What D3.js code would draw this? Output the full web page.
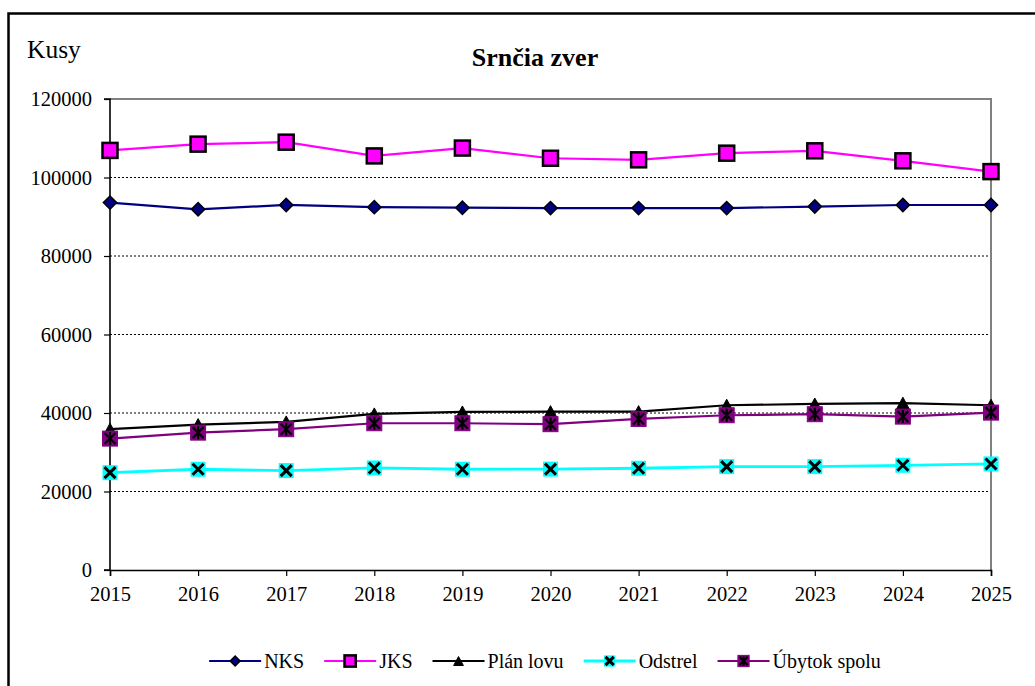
<!DOCTYPE html>
<html><head><meta charset="utf-8">
<script src="https://cdn.jsdelivr.net/npm/d3@7/dist/d3.min.js"></script>
<style>body{margin:0;background:#fff}svg{display:block}</style>
</head><body><svg id="c" width="1035" height="686"></svg>
<script>
const years = [2015,2016,2017,2018,2019,2020,2021,2022,2023,2024,2025];
const nks = [93600,91900,93000,92450,92300,92200,92200,92200,92600,93000,93000];
const jks = [106900,108500,109000,105500,107500,104900,104500,106200,106800,104250,101500];
const planLovu = [35870,37050,37730,39770,40270,40350,40350,41980,42300,42500,41980];
const odstrel = [24800,25670,25330,26000,25670,25700,25920,26340,26340,26680,27020];
const ubytok = [33480,35000,35870,37390,37390,37150,38490,39430,39690,39080,40100];
const yTicks = [0,20000,40000,60000,80000,100000,120000];
const seriesNames = ["NKS","JKS","Plán lovu","Odstrel","Úbytok spolu"];
const title = "Srnčia zver";
const yTitle = "Kusy";

const FF = '"Liberation Serif"';
const svg = d3.select("#c");
const L=110,R=991,T=99,B=570;
const x = d3.scalePoint().domain(years).range([L,R]);
const y = d3.scaleLinear().domain([0,120000]).range([B,T]);

// outer frame (left & top)
svg.append("path").attr("d",`M8.5,686 V13.5 H1035`).attr("fill","none").attr("stroke","#000").attr("stroke-width",2.5);

// gridlines
svg.append("g").selectAll("line").data(yTicks.filter(v=>v>0&&v<120000)).join("line")
  .attr("x1",L).attr("x2",R).attr("y1",d=>y(d)).attr("y2",d=>y(d))
  .attr("stroke","#000").attr("stroke-width",1).attr("stroke-dasharray","2,2");
// plot top/right border
svg.append("path").attr("d",`M${L},${T} H${R} V${B}`).attr("fill","none").attr("stroke","#808080").attr("stroke-width",2);

// axes
const yAxis = svg.append("g").attr("transform",`translate(${L},0)`)
  .call(d3.axisLeft(y).tickValues(yTicks).tickFormat(d3.format("d")).tickSize(6).tickPadding(12));
const xAxis = svg.append("g").attr("transform",`translate(0,${B})`)
  .call(d3.axisBottom(x).tickSize(6).tickPadding(8).tickFormat(d3.format("d")));
[yAxis,xAxis].forEach(a=>{
  a.attr("font-family",null);
  a.select(".domain").attr("stroke","#000").attr("stroke-width",1.6);
  a.selectAll(".tick line").attr("stroke","#000").attr("stroke-width",1.2);
  a.selectAll(".tick text").attr("fill","#000").style("font-family",FF).style("font-size","20.5px");
});
yAxis.select(".domain").attr("d",`M-6,${T}H0V${B}H-6`);
yAxis.selectAll(".tick text").attr("x",-18).attr("dy","0.33em");
xAxis.selectAll(".tick text").attr("y",31).attr("dy",0);

// titles
svg.append("text").attr("x",535).attr("y",66).attr("text-anchor","middle").style("font-family",FF).style("font-size","26px").attr("font-weight","bold").text(title);
svg.append("text").attr("x",27).attr("y",58).style("font-family",FF).style("font-size","25.5px").text(yTitle);

// marker drawers
function mDiamond(g,s){g.append("path").attr("d",d3.symbol(d3.symbolSquare,88*s*s)()).attr("transform","rotate(45)").attr("fill","#000080").attr("stroke","#000").attr("stroke-width",1.5);}
function mSquare(g,s){const h=7.5*s;g.append("rect").attr("x",-h).attr("y",-h).attr("width",2*h).attr("height",2*h).attr("fill","#ff00ff").attr("stroke","#000").attr("stroke-width",2.5);}
function mTri(g,s){const w=6.5*s,h=6*s;g.append("path").attr("d",`M0,${-h}L${w},${h}L${-w},${h}Z`).attr("fill","#000").attr("stroke","#000").attr("stroke-width",1);}
function mX(g,s){const h=7.5*s,k=5.5*s;g.append("rect").attr("x",-h).attr("y",-h).attr("width",2*h).attr("height",2*h).attr("fill","#00ffff");
  g.append("path").attr("d",`M${-k},${-k}L${k},${k}M${k},${-k}L${-k},${k}`).attr("stroke","#000").attr("stroke-width",3);}
function mStar(g,s){const h=7.5*s,k=5.5*s;g.append("rect").attr("x",-h).attr("y",-h).attr("width",2*h).attr("height",2*h).attr("fill","#800080").attr("stroke","#800080").attr("stroke-width",1);
  g.append("path").attr("d",`M${-k},${-k}L${k},${k}M${k},${-k}L${-k},${k}M0,${-h+1}L0,${h-1}`).attr("stroke","#000").attr("stroke-width",2.2);}

const series = [
  {name:seriesNames[0],vals:nks,color:"#000080",w:2.2,m:mDiamond},
  {name:seriesNames[1],vals:jks,color:"#ff00ff",w:2.2,m:mSquare},
  {name:seriesNames[2],vals:planLovu,color:"#000",w:2.2,m:mTri},
  {name:seriesNames[3],vals:odstrel,color:"#00ffff",w:2.8,m:mX},
  {name:seriesNames[4],vals:ubytok,color:"#800080",w:2.2,m:mStar}
];
const line = d3.line().x((d,i)=>x(years[i])).y(d=>y(d));
series.forEach(s=>{
  const g=svg.append("g");
  g.append("path").attr("d",line(s.vals)).attr("fill","none").attr("stroke",s.color).attr("stroke-width",s.w);
  s.vals.forEach((v,i)=>{const mg=g.append("g").attr("transform",`translate(${x(years[i])},${y(v)})`);s.m(mg,1);});
});

// legend (laid out from measured text widths, centred)
const legY=661, lineLen=52, txtOff=3, gap=20, legCenter=545;
const items = series.map(s=>{
  const g=svg.append("g");
  g.append("line").attr("x1",0).attr("x2",lineLen).attr("stroke",s.color).attr("stroke-width",s.w);
  const mg=g.append("g").attr("transform",`translate(${lineLen/2},0)`);s.m(mg,0.75);
  const t=g.append("text").attr("x",lineLen+txtOff).attr("y",7).style("font-family",FF).style("font-size","20px").text(s.name);
  return {g,w:lineLen+txtOff+t.node().getComputedTextLength()};
});
const total=d3.sum(items,d=>d.w)+gap*(items.length-1);
let cx=legCenter-total/2;
items.forEach(it=>{it.g.attr("transform",`translate(${cx},${legY})`);cx+=it.w+gap;});
</script></body></html>
